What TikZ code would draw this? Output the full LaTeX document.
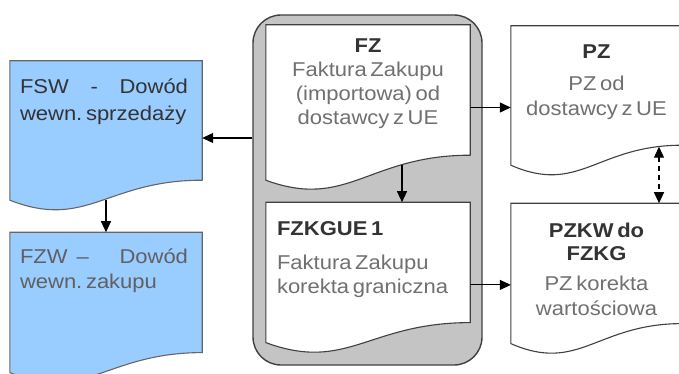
\documentclass[tikz,border=0pt]{standalone}
\usepackage{fontspec}
\setmainfont[FakeStretch=1.1,WordSpace=0.6]{Liberation Sans}
\usetikzlibrary{positioning,arrows.meta}
\frenchspacing

\definecolor{docblue}{HTML}{99CCFF}
\definecolor{groupgray}{HTML}{C4C4C4}
\definecolor{edgegray}{HTML}{404040}
\definecolor{titletext}{HTML}{333333}
\definecolor{bodytext}{HTML}{707070}

% bold dark heading inside a document
\newcommand{\ttl}[1]{{\bfseries\color{titletext}#1}}
% document outline with a wavy lower edge: node, width, rise, style
\newcommand{\docshape}[4]{%
  \draw [#4] (#1.north west) -- (#1.north east) -- ([yshift=#3pt]#1.south east)
    .. controls +(-0.5*#2,0) and +(0.4*#2,30) .. (#1.south west) -- cycle;}

\begin{document}
\begin{tikzpicture}[x=1pt, y=-1pt,
    slot/.style={rectangle, inner sep=0pt},
    docline/.style={draw=edgegray, line width=1.1pt, fill=white},
    words/.style={inner sep=0pt, font=\fontsize{20}{24}\selectfont, text=bodytext, align=center},
    arr/.style={line width=1.1pt, -{Triangle[length=11pt,width=10pt]}},
    dasharr/.style={line width=1.1pt, dash pattern=on 5pt off 4pt,
      {Triangle[length=11pt,width=10pt]}-{Triangle[length=11pt,width=10pt]}}]
    \useasboundingbox (0,0) rectangle (679,374);

    % First, the grey frame round the invoice and its correction
    \node [draw=edgegray, line width=1.4pt, fill=groupgray, rounded corners=28pt,
           minimum width=229pt, minimum height=350pt] (grp) at (367.5,190) {};

    % Now locate each of the documents and name them
    \node [slot, minimum width=192pt, minimum height=139pt] (fsw) at (106,130.5) {};
    \node [slot, minimum width=192pt, minimum height=140pt, below=32pt of fsw] (fzw) {};
    \node [slot, minimum width=204pt, minimum height=155pt] (fz) at (368,102.5) {};
    \node [slot, minimum width=204pt, minimum height=140pt, below=22pt of fz] (fzkg) {};
    \node [slot, minimum width=171pt, minimum height=139pt] (pz) at (596.5,95.5) {};
    \node [slot, minimum width=171pt, minimum height=140pt, below=38pt of pz] (pzkw) {};

    % Their outlines
    \docshape{fsw}{192}{20}{docline, draw=gray!80!black, fill=docblue}
    \docshape{fzw}{192}{20}{docline, draw=gray!80!black, fill=docblue}
    \docshape{fz}{204}{25}{docline}
    \docshape{fzkg}{204}{20}{docline}
    \docshape{pz}{171}{20}{docline}
    \docshape{pzkw}{171}{20}{docline}

    % The texts
    \node [words, text=titletext, align=left,
           below right=18pt and 10pt of fsw.north west] (fsw text)
          {\makebox[168pt][s]{FSW\hfill-\hfill Dowód}\\[2.5pt]wewn. sprzedaży};
    \node [words, text=gray!75!black, align=left,
           below right=16.7pt and 10pt of fzw.north west] (fzw text)
          {\makebox[168pt][s]{FZW\hspace{9pt}–\hfill Dowód}\\[1pt]wewn. zakupu};
    \node [words, below=13.7pt of fz.north] (fz text)
          {\ttl{FZ}\\Faktura Zakupu\\(importowa) od\\dostawcy z UE};
    \node [words, align=left, below right=18.7pt and 11pt of fzkg.north west] (fzkg text)
          {\ttl{FZKGUE 1}\\[10pt]Faktura Zakupu\\korekta graniczna};
    \node [words, below=18.7pt of pz.north] (pz text)
          {\ttl{PZ}\\[8pt]PZ od\\[1pt]dostawcy z UE};
    \node [words, below=19.7pt of pzkw.north] (pzkw text)
          {\ttl{PZKW do}\\[-1pt]\ttl{FZKG}\\[6pt]PZ korekta\\[1pt]wartościowa};

    % Now draw the arrows:
    \coordinate (fsw in) at ([yshift=-7.5pt]fsw.east);
    \draw [arr] (grp.west |- fsw in) -- (fsw in);
    \draw [arr] (fsw.south) -- (fzw.north);
    \draw [arr] ([xshift=34pt,yshift=15.5pt]fz.south) -- ([xshift=34pt]fzkg.north);
    \draw [arr] ([yshift=-5pt]fz.east) -- ([yshift=-5pt]fz.east -| pz.west);
    \draw [arr] ([yshift=-12.5pt]fzkg.east) -- ([yshift=-12.5pt]fzkg.east -| pzkw.west);
    \draw [dasharr] ([xshift=62.5pt,yshift=18.5pt]pz.south) -- ([xshift=62.5pt]pzkw.north);
\end{tikzpicture}
\end{document}
